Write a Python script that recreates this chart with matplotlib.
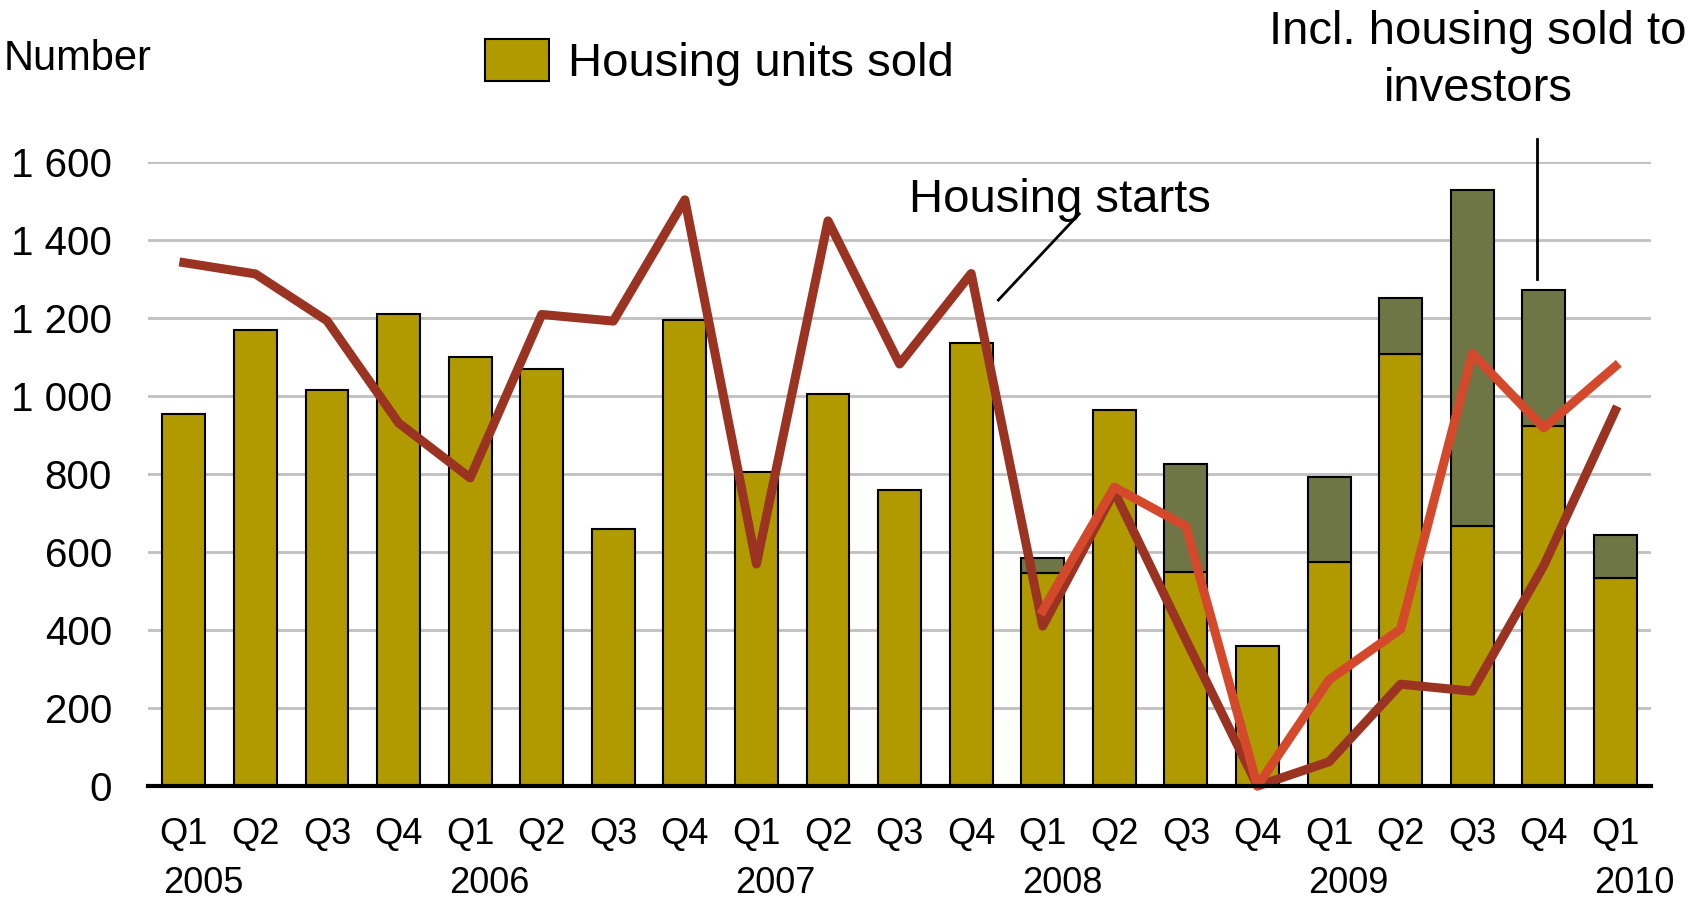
import numpy as np
import matplotlib
matplotlib.use("Agg")
import matplotlib.pyplot as plt
from matplotlib.transforms import blended_transform_factory

plt.rcParams['font.family'] = ['Liberation Sans', 'DejaVu Sans']

# data (number of units)
quarters = ["Q1", "Q2", "Q3", "Q4"] * 5 + ["Q1"]
years = ["2005", "2006", "2007", "2008", "2009", "2010"]
year_pos = [0, 4, 8, 12, 16, 20]

sold = [955, 1170, 1015, 1210, 1100, 1070, 660, 1195, 805, 1005, 760,
        1135, 545, 963, 548, 358, 573, 1107, 666, 922, 533]
investors = [0, 0, 0, 0, 0, 0, 0, 0, 0, 0, 0,
             0, 39, 0, 277, 0, 220, 143, 861, 349, 111]
starts = [1342, 1313, 1193, 931, 790, 1209, 1192, 1503, 569, 1449, 1082,
          1314, 410, 755, 375, 0, 62, 261, 243, 565, 963]
starts_incl = [np.nan] * 12 + [450, 766, 666, 0, 272, 402, 1109, 918, 1076]

x = np.arange(len(sold))

fig = plt.figure(figsize=(16.9, 9.06), dpi=100)
ax = fig.add_axes([0.0876, 0.1325, 0.8894, 0.6887])

ax.bar(x, sold, width=0.6, color="#B09A00", edgecolor="black", linewidth=1.5, zorder=2,
       label="Housing units sold")
inv = np.array(investors)
m = inv > 0
ax.bar(x[m], inv[m], bottom=np.array(sold)[m], width=0.6, color="#6E7646",
       edgecolor="black", linewidth=1.5, zorder=2)

ax.plot(x, starts, color="#9A3322", linewidth=6.5, zorder=3, clip_on=False)
ax.plot(x, starts_incl, color="#D4492B", linewidth=6.5, zorder=4, clip_on=False)

ax.set_xlim(-0.5, 20.5)
ax.set_ylim(0, 1600)
ax.set_yticks(range(0, 1601, 200))
ax.set_yticklabels(["0", "200", "400", "600", "800", "1 000", "1 200", "1 400", "1 600"],
                   fontsize=29)
ax.set_xticks(x)
ax.set_xticklabels(quarters, fontsize=26)
ax.tick_params(axis="both", length=0)
ax.tick_params(axis="x", pad=22)
ax.tick_params(axis="y", pad=26)
ax.grid(axis="y", color="#C0C0C0", linewidth=2, zorder=0)
ax.set_axisbelow(True)
for s in ["top", "right", "left"]:
    ax.spines[s].set_visible(False)
ax.spines["bottom"].set_linewidth(3)
ax.spines["bottom"].set_zorder(5)

tr = blended_transform_factory(ax.transData, ax.transAxes)
for yp, yl in zip(year_pos, years):
    ax.text(yp + 0.27, -0.157, yl, transform=tr, ha="center", va="center", fontsize=26)

fig.text(0.002, 0.935, "Number", ha="left", va="center", fontsize=30)

leg = ax.legend(loc="upper left", bbox_to_anchor=(0.196, 1.265), frameon=False,
                fontsize=34, handlelength=1.35, handleheight=1.0, handletextpad=0.4)

ax.text(12.24, 1503, "Housing starts", ha="center", va="center", fontsize=34)
ax.plot([11.38, 12.51], [1246, 1467], color="black", linewidth=2, clip_on=False)

ax.text(18.08, 1860, "Incl. housing sold to\ninvestors", ha="center", va="center",
        fontsize=34, linespacing=1.38)
ax.plot([18.9, 18.9], [1300, 1660], color="black", linewidth=2, clip_on=False)

plt.savefig("out.png", dpi=100)
